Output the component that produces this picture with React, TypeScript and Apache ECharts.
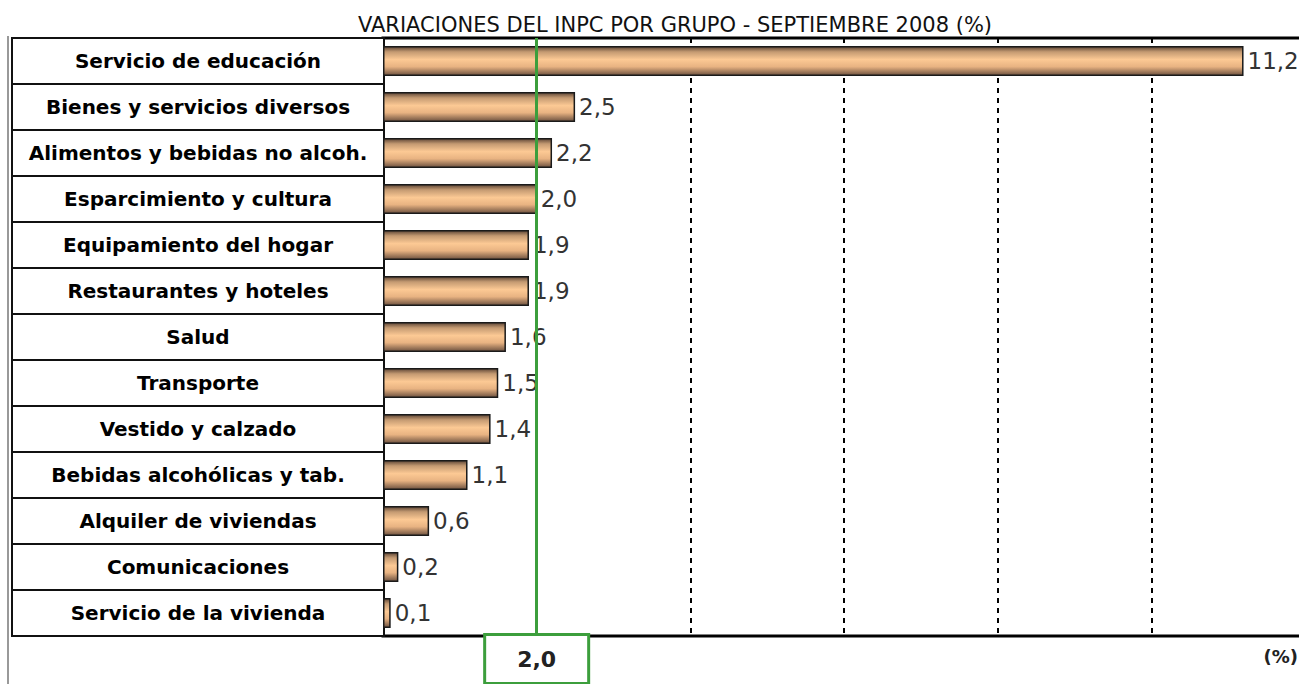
import React, { useEffect, useRef } from "react";
import * as echarts from "echarts";

const titleText = "VARIACIONES DEL INPC POR GRUPO - SEPTIEMBRE 2008 (%)";
const categories = [
  "Servicio de educación",
  "Bienes y servicios diversos",
  "Alimentos y bebidas no alcoh.",
  "Esparcimiento y cultura",
  "Equipamiento del hogar",
  "Restaurantes y hoteles",
  "Salud",
  "Transporte",
  "Vestido y calzado",
  "Bebidas alcohólicas y tab.",
  "Alquiler de viviendas",
  "Comunicaciones",
  "Servicio de la vivienda",
];
const values = [11.2, 2.5, 2.2, 2.0, 1.9, 1.9, 1.6, 1.5, 1.4, 1.1, 0.6, 0.2, 0.1];
const referenceValue = 2.0;
const unitLabel = "(%)";

const fmt = (v: number) => v.toFixed(1).replace(".", ",");

export default function App() {
  const ref = useRef<HTMLDivElement>(null);
  useEffect(() => {
    if (!ref.current) return;
    const chart = echarts.init(ref.current, undefined, { renderer: "svg" });
    chart.setOption({
      animation: false,
      backgroundColor: "#ffffff",
      title: {
        text: titleText,
        left: 670,
        textAlign: "center",
        top: 9,
        textStyle: { fontFamily: "DejaVu Sans", fontSize: 21, fontWeight: "normal", color: "#111" },
      },
      grid: {
        left: 383,
        top: 38,
        right: 15,
        bottom: 48,
        show: true,
        borderColor: "#000",
        borderWidth: 3,
        backgroundColor: "transparent",
      },
      xAxis: {
        type: "value",
        position: "top",
        min: 0,
        max: 12,
        interval: 2,
        axisLine: { show: false },
        axisTick: { show: true, inside: true, length: 5, lineStyle: { color: "#000", width: 2 } },
        axisLabel: { show: false },
        splitLine: { show: true, lineStyle: { color: "#000", width: 2, type: [5, 5] } },
      },
      yAxis: {
        type: "category",
        inverse: true,
        data: categories,
        axisLine: { show: false },
        axisTick: { show: false },
        axisLabel: {
          interval: 0,
          showMinLabel: true,
          showMaxLabel: true,
          hideOverlap: false,
          margin: 0,
          align: "right",
          backgroundColor: "#fff",
          borderColor: "#111",
          borderWidth: 2,
          height: 44,
          lineHeight: 44,
          formatter: (v: string) => `{a|${v}}`,
          rich: {
            a: {
              width: 370,
              align: "center",
              fontFamily: "DejaVu Sans",
              fontWeight: "bold",
              fontSize: 20,
              color: "#000",
            },
          },
        },
      },
      series: [
        {
          type: "bar",
          data: values,
          barWidth: 30,
          itemStyle: {
            borderColor: "#1a1a1a",
            borderWidth: 1.5,
            color: new echarts.graphic.LinearGradient(0, 0, 0, 1, [
              { offset: 0, color: "#5e4636" },
              { offset: 0.18, color: "#c49a72" },
              { offset: 0.45, color: "#fcc994" },
              { offset: 0.7, color: "#e8b382" },
              { offset: 1, color: "#6e5240" },
            ]),
          },
          label: {
            show: true,
            position: "right",
            distance: 4,
            formatter: (p: any) => fmt(p.value),
            fontFamily: "DejaVu Sans",
            fontSize: 23,
            color: "#333",
          },
          markLine: {
            silent: true,
            symbol: "none",
            lineStyle: { color: "#3c9e3c", width: 3, type: "solid" },
            label: {
              show: true,
              position: "end",
              distance: 0,
              fontFamily: "DejaVu Sans",
              fontWeight: "bold",
              fontSize: 22,
              color: "#222",
              formatter: () => `{b|${fmt(referenceValue)}}`,
              rich: {
                b: {
                  width: 101,
                  height: 46,
                  align: "center",
                  verticalAlign: "middle",
                  backgroundColor: "#fff",
                  borderColor: "#3c9e3c",
                  borderWidth: 3,
                  fontFamily: "DejaVu Sans",
                  fontWeight: "bold",
                  fontSize: 22,
                  color: "#222",
                },
              },
            },
            data: [{ xAxis: referenceValue }],
          },
        },
      ],
      graphic: [
        {
          type: "line",
          shape: { x1: 8, y1: 36, x2: 8, y2: 684 },
          style: { stroke: "#999", lineWidth: 2 },
        },
        {
          type: "text",
          right: 22,
          top: 647,
          style: {
            text: unitLabel,
            fontFamily: "DejaVu Sans",
            fontWeight: "bold",
            fontSize: 18,
            fill: "#222",
          },
        },
      ],
    });
    return () => chart.dispose();
  }, []);
  return (
    <div
      ref={ref}
      style={{ position: "fixed", left: 0, top: 0, width: 1320, height: 684 }}
    />
  );
}
